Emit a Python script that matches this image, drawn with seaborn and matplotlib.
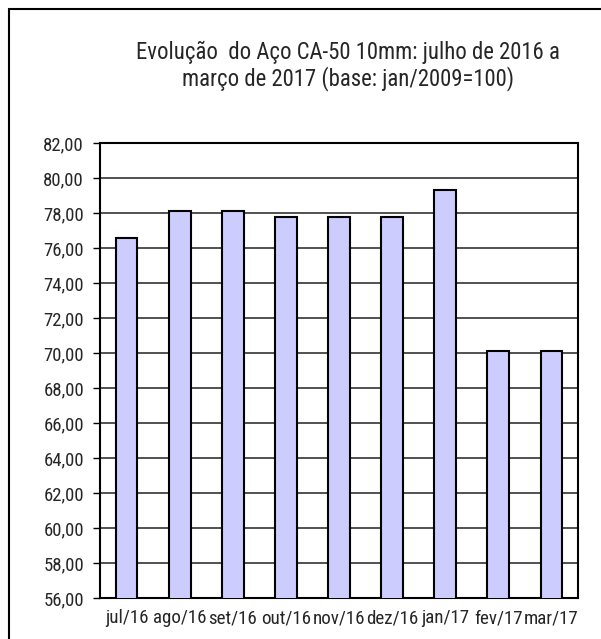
import matplotlib
matplotlib.use("Agg")
from matplotlib import pyplot as plt
from matplotlib.patches import Rectangle
from matplotlib.ticker import FuncFormatter, FixedLocator
import pandas as pd
import seaborn as sns

months = ["jul/16", "ago/16", "set/16", "out/16", "nov/16",
          "dez/16", "jan/17", "fev/17", "mar/17"]
values = [76.6, 78.1, 78.1, 77.8, 77.8, 77.8, 79.3, 70.1, 70.1]
yticks = list(range(56, 84, 2))
title_lines = ["Evolução  do Aço CA-50 10mm: julho de 2016 a",
               "março de 2017 (base: jan/2009=100)"]

df = pd.DataFrame({"Mes": months, "Indice": values})

sns.set_style("white")
plt.rcParams["font.family"] = ["Roboto Condensed", "Liberation Sans", "DejaVu Sans"]

fig = plt.figure(figsize=(6.01, 6.39), dpi=100)
fig.patches.append(Rectangle((9 / 601, -0.05), 1.2, 1 - 9 / 639 + 0.05,
                             transform=fig.transFigure, fill=False,
                             edgecolor="black", linewidth=1.5))

ax = fig.add_axes([100 / 601, 1 - 598 / 639, 478 / 601, 455 / 639])
sns.barplot(data=df, x="Mes", y="Indice", color="#ccccff", saturation=1,
            width=0.41, edgecolor="black", linewidth=1.5, ax=ax, zorder=3)

ax.set_ylim(56, 82)
ax.set_xlim(-0.5, len(months) - 0.5)
ax.set_yticks(yticks)
ax.yaxis.set_major_formatter(FuncFormatter(lambda v, p: f"{v:.2f}".replace(".", ",")))
ax.grid(axis="y", color="#222222", linewidth=1.1, zorder=0)
ax.set_axisbelow(True)
ax.set_xlabel("")
ax.set_ylabel("")

ax.xaxis.set_minor_locator(FixedLocator([i - 0.5 for i in range(len(months) + 1)]))
ax.tick_params(axis="x", which="major", length=0, pad=8, labelsize=13.7)
ax.tick_params(axis="x", which="minor", length=5, width=1, color="#555555", direction="out")
ax.tick_params(axis="y", length=5, width=1, color="black", direction="out",
               left=True, pad=6.5, labelsize=13.5)
for s in ax.spines.values():
    s.set_color("black")
    s.set_linewidth(1.5)

fig.text(348 / 601, 1 - 59 / 639, title_lines[0], ha="center", va="baseline", fontsize=16.4)
fig.text(348 / 601, 1 - 85 / 639, title_lines[1], ha="center", va="baseline", fontsize=16.4)

fig.savefig("out.png", dpi=100)
